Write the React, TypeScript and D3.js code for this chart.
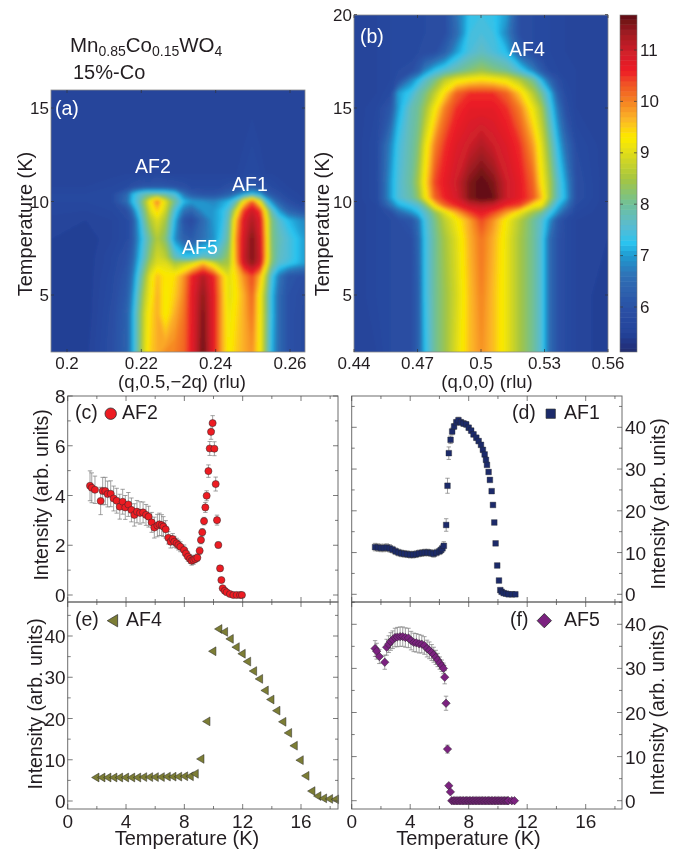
import React from 'react';
import * as d3 from 'd3';

// ---------- heat map (a) ----------
const qA = [0.196,0.205,0.212,0.216,0.2175,0.219,0.221,0.2225,0.2243,0.2265,0.229,0.2315,0.2335,0.2366,0.2395,0.2415,0.2435,0.2455,0.2475,0.2498,0.252,0.2535,0.255,0.257,0.2595,0.264];
const tA = [2,4,5,6,6.7,7,8,9,9.5,10,10.4,10.8,11.5,13,16];
const zA = [
  [5.5,5.45,5.9,6.3,7.0,7.9,9.0,9.5,9.7,9.9,10,10.2,10.7,11.6,10.7,9.8,9.2,9.5,9.7,9.9,9.2,8.2,7.2,6.5,6,5.75],
  [5.5,5.4,5.85,6.3,7.0,7.9,8.9,9.4,9.7,9.2,9.7,10.1,10.7,11.5,10.7,9.8,9.1,9.4,9.7,10.1,9.2,8.3,7.3,6.5,6,5.75],
  [5.5,5.4,5.8,6.2,6.8,7.7,8.7,9.2,9.7,9.2,9.5,10.0,10.7,11.4,10.7,9.8,9.0,9.3,9.7,10.2,9.2,8.3,7.3,6.5,6,5.8],
  [5.5,5.4,5.75,6.1,6.6,7.4,8.4,9.1,9.6,9.3,9.4,9.9,10.6,11.2,10.6,9.7,9.0,9.4,9.9,10.4,9.6,8.6,7.5,6.7,6.1,5.9],
  [5.5,5.4,5.7,6,6.4,7.1,8.0,8.6,9.0,9.0,8.5,8.7,8.9,9.6,8.9,8.4,8.5,9.7,10.9,11.4,10.9,9.4,8.2,7.6,7.4,7.0],
  [5.5,5.4,5.7,5.95,6.3,7,7.8,8.4,8.9,8.7,7.8,7.4,7.4,7.8,7.7,8.0,8.4,9.8,11,11.5,11,9.6,8.3,7.7,7.5,7.0],
  [5.5,5.4,5.6,5.8,6.1,6.8,7.6,8.1,8.6,8.2,6.9,6.3,6.2,6.6,6.9,7.4,8,9.9,10.9,11.5,10.9,9.6,8.2,7.8,7.5,7.0],
  [5.55,5.5,5.6,5.8,6.1,6.9,8,8.6,9,8.5,7.2,6,5.8,6.5,7,7.2,7.8,9.6,10.8,11.2,10.8,9.4,8.2,7.6,7.2,6.8],
  [5.65,5.6,5.7,5.9,6.5,7.3,8.2,9,9.5,8.8,7.5,6.6,6.4,6.9,7,7.2,7.6,8.9,10.4,11,10.4,9,7.8,7,6.4,6],
  [5.7,5.7,5.8,6.5,7.2,7.6,8.5,9.3,10,9,8,7.2,7,6.9,6.8,7,7.2,7.8,9.2,10.2,9,7.6,6.9,6.3,5.9,5.6],
  [5.7,5.7,5.8,6.4,7.1,7.5,7.8,7.9,7.9,7.8,7.5,6.6,6.2,6,6,6.1,6.3,6.6,7,7.3,7,6.4,6.1,5.9,5.7,5.55],
  [5.6,5.6,5.7,5.8,5.9,6,6.1,6.1,6.1,6.1,6,5.9,5.8,5.8,5.8,5.8,5.9,5.9,6,6.2,6,5.9,5.8,5.7,5.6,5.5],
  [5.5,5.5,5.55,5.6,5.6,5.6,5.6,5.6,5.7,5.6,5.6,5.6,5.6,5.6,5.6,5.6,5.6,5.6,5.7,5.8,5.7,5.6,5.6,5.55,5.5,5.5],
  [5.5,5.5,5.5,5.5,5.5,5.5,5.5,5.5,5.5,5.5,5.5,5.5,5.5,5.5,5.5,5.5,5.5,5.5,5.6,5.7,5.6,5.5,5.5,5.5,5.5,5.5],
  [5.5,5.5,5.5,5.5,5.5,5.5,5.5,5.5,5.5,5.5,5.5,5.5,5.5,5.5,5.5,5.5,5.5,5.5,5.5,5.5,5.5,5.5,5.5,5.5,5.5,5.5],
];

// ---------- heat map (b) ----------
const qB = [0.44,0.4506,0.4572,0.4608,0.4671,0.4703,0.4734,0.4782,0.4829,0.4884,0.4947,0.5002,0.5058,0.5121,0.5184,0.5247,0.5286,0.5326,0.5365,0.5401,0.5452,0.56];
const tB = [2,5,8,9,9.4,9.8,10.2,11,13,15,15.8,16.5,17,18,19,20];
const zB = [
  [5.5,5.6,5.8,5.8,5.9,6.3,7.2,8.0,8.4,9.0,9.6,9.9,9.6,9.1,8.5,8.0,7.5,6.5,6.0,5.8,5.6,5.4],
  [5.5,5.7,5.8,5.8,5.9,6.3,7.3,8.0,8.4,8.9,9.6,10,9.6,9.1,8.5,8.0,7.5,6.5,6.0,5.8,5.6,5.4],
  [5.5,5.7,5.8,5.8,5.9,6.4,7.3,8.0,8.5,9.0,9.7,10.1,9.7,9.1,8.5,8.0,7.5,6.5,6,5.8,5.6,5.5],
  [5.5,5.7,5.8,5.9,6.1,6.6,7.4,8.1,8.7,9.2,9.8,10.4,9.9,9.2,8.6,8,7.6,6.9,6.1,5.8,5.6,5.5],
  [5.5,5.7,5.9,6.4,6.9,7.2,7.6,8.3,9,9.7,10.4,10.7,10.4,9.8,9.1,8.4,8,7.4,6.8,6.2,5.7,5.5],
  [5.5,5.7,6.6,7.1,7.4,7.6,8.1,9.4,10.2,10.6,11,11.1,11,10.6,10.4,9.3,9.1,8,7.2,6.7,5.8,5.5],
  [5.5,5.8,7,7.5,7.9,8.3,9.1,10.2,10.6,10.9,11.5,11.7,11.6,11,10.7,10.3,9.6,8.5,7.6,7.1,5.9,5.5],
  [5.5,5.8,7,7.5,8,8.5,9.3,10.4,10.7,11,11.5,11.7,11.5,11,10.7,10.2,9.3,8.5,7.6,7,5.9,5.5],
  [5.5,5.8,6.8,7.4,7.9,8.2,9,10,10.5,10.8,11,11.2,11,10.8,10.5,9.8,9,8.1,7.2,6.5,5.8,5.5],
  [5.5,5.7,6.1,7,7.8,8,8.4,9.2,10,10.5,10.7,10.7,10.7,10.5,10,9.1,8.5,7.5,6.6,5.9,5.6,5.5],
  [5.5,5.6,5.8,7,7.4,7.8,8.1,8.7,9.4,10.2,10.5,10.5,10.5,10.2,9.5,8.6,8,7.2,6.2,5.8,5.6,5.5],
  [5.5,5.6,5.7,5.9,6.8,7.2,7.6,8.1,8.7,9.1,9.3,9.4,9.3,9.1,8.6,8,7.2,6.4,5.9,5.7,5.6,5.5],
  [5.5,5.6,5.7,5.8,5.9,6.2,6.8,7.3,7.6,7.9,8.2,8.4,8.2,8,7.5,6.8,6.2,5.8,5.7,5.6,5.6,5.5],
  [5.5,5.6,5.7,5.7,5.7,5.8,5.8,5.9,6.3,7,7.5,7.7,7.5,7.2,6.3,5.8,5.7,5.7,5.6,5.6,5.5,5.5],
  [5.5,5.6,5.7,5.7,5.7,5.7,5.8,5.8,5.9,6.5,7.4,7.5,7.4,6.8,5.9,5.8,5.7,5.7,5.6,5.6,5.5,5.5],
  [5.5,5.6,5.7,5.7,5.7,5.7,5.8,5.8,5.9,6.6,7.3,7.4,7.3,7,5.9,5.8,5.7,5.7,5.6,5.6,5.5,5.5],
];

// ---------- colour bar ----------
const colourValues = [5.1,5.5,6,6.6,7,7.25,7.6,8,8.5,9,9.3,9.7,10,10.4,10.6,10.95,11.3,11.7];
const colourStops = ['#1f2a6e','#24429a','#2b52a6','#2f6fb5','#1f9ad0','#29c3ef','#5bbbcf','#6fc09a','#a5c640','#e0dc1a','#fdec00','#fbb02a','#f58220','#ef4a26','#ee1c25','#d2202a','#a51e22','#5c0f12'];
const colourTicks = [6,7,8,9,10,11];
const colourLevels = d3.range(51, 117).map(v => v / 10);

// ---------- (c) AF2 ----------
const af2T = [1.53,1.65,1.87,2.26,2.4,2.58,2.74,2.95,3.15,3.36,3.57,3.77,3.95,4.16,4.37,4.57,4.75,4.96,5.17,5.37,5.55,5.76,5.94,6.15,6.29,6.45,6.56,6.72,6.9,7.06,7.2,7.31,7.47,7.59,7.73,7.98,8.11,8.25,8.39,8.5,8.62,8.75,8.89,9.05,9.14,9.23,9.35,9.44,9.53,9.65,9.74,9.83,9.94,10.06,10.15,10.24,10.33,10.45,10.54,10.63,10.77,10.9,11.13,11.36,11.59,11.82,11.95];
const af2I = [4.39,4.31,4.23,3.78,4.18,4.18,4.06,4.07,3.88,3.79,3.55,3.75,3.52,3.64,3.42,3.22,3.35,3.3,3.32,3.22,3.15,2.92,2.71,2.79,2.84,2.81,2.75,2.64,2.3,2.14,2.25,2.14,2.08,2.01,1.94,1.81,1.67,1.54,1.45,1.38,1.41,1.45,1.5,1.78,2.21,2.52,2.97,3.52,3.99,4.98,5.89,6.56,6.91,5.88,4.46,3.01,2.01,1.07,0.6,0.27,0.17,0.11,0.04,0,0,0,0];
const af2E = [0.6,0.6,0.55,0.55,0.55,0.55,0.52,0.52,0.5,0.5,0.5,0.5,0.48,0.48,0.48,0.45,0.45,0.45,0.42,0.42,0.42,0.4,0.42,0.45,0.45,0.42,0.4,0.35,0.25,0.25,0.22,0.22,0.2,0.2,0.2,0.2,0.18,0.18,0.18,0.18,0.18,0.15,0.15,0.15,0.15,0.15,0.15,0.2,0.2,0.25,0.28,0.3,0.3,0.28,0.28,0.2,0.12,0.1,0.05,0.05,0.02,0.02,0.02,0.01,0.01,0.01,0.01];

// ---------- (d) AF1 ----------
const af1T = [1.6,1.8,2,2.2,2.4,2.6,2.8,3,3.2,3.4,3.6,3.8,4,4.2,4.4,4.6,4.8,5,5.2,5.4,5.6,5.8,6,6.1,6.2,6.3,6.46,6.55,6.64,6.76,6.87,7,7.15,7.3,7.47,7.65,7.83,8,8.17,8.33,8.52,8.68,8.84,8.97,9.09,9.18,9.25,9.36,9.45,9.57,9.66,9.75,9.84,9.95,10.07,10.16,10.25,10.39,10.55,10.73,10.96,11.19];
const af1I = [11.3,11.2,11.1,11.1,11.2,11,10.7,10.3,10,9.8,9.7,9.6,9.5,9.5,9.6,9.8,9.9,10,10,9.9,9.7,10,10.3,10.6,11,11.6,16.6,26,33.8,37,39,40.2,41.2,41.7,41.2,40.9,40.7,39.9,39.2,38.3,37.5,36.7,35.8,34.6,33.5,32.2,31,29.3,27.4,24.7,21.4,17.2,12.2,6.9,3.3,1,0.6,0.3,0.15,0,0,0];
const af1E = [0.9,0.9,0.9,0.9,0.9,0.9,0.8,0.8,0.8,0.8,0.8,0.8,0.8,0.8,0.8,0.8,0.8,0.8,0.8,0.8,0.8,0.8,0.8,0.8,0.9,1,1.5,1.8,1.5,0.9,0.8,0.7,0.7,0.7,0.7,0.7,0.7,0.6,0.6,0.6,0.6,0.6,0.5,0.5,0.5,0.5,0.4,0.4,0.4,0.3,0.3,0.3,0.2,0.2,0.1,0.1,0.1,0.1,0.05,0,0,0];

// ---------- (e) AF4 ----------
const af4T = [1.92,2.33,2.74,3.15,3.54,3.95,4.37,4.78,5.19,5.6,5.99,6.4,6.81,7.2,7.59,8,8.39,8.73,9.12,9.53,9.94,10.35,10.74,11.13,11.54,11.95,12.32,12.73,13.14,13.53,13.92,14.33,14.74,15.13,15.52,15.93,16.32,16.73,17.14,17.53,17.94,18.35];
const af4I = [5.7,5.7,5.7,5.7,5.7,5.7,5.7,5.7,5.8,5.8,5.8,5.8,5.9,5.9,5.9,6,6,6.6,10.2,19.3,36.3,41.7,41,39.3,37.3,35.7,33.8,31.5,29.6,26.8,24.6,21.9,19.2,16.5,13.4,9.9,6.1,2.4,1.2,0.65,0.5,0.4];

// ---------- (f) AF5 ----------
const af5T = [1.6,1.71,1.89,2.26,2.39,2.53,2.67,2.8,2.96,3.12,3.31,3.49,3.67,3.88,4.06,4.24,4.42,4.61,4.79,4.97,5.15,5.31,5.47,5.61,5.75,5.88,6.02,6.16,6.27,6.36,6.45,6.55,6.64,6.75,6.84,6.95,7.05,7.15,7.25,7.35,7.45,7.55,7.65,7.75,7.85,7.95,8.05,8.15,8.25,8.35,8.45,8.55,8.65,8.75,8.85,8.95,9.05,9.15,9.25,9.35,9.45,9.55,9.65,9.75,9.85,9.95,10.05,10.15,10.25,10.35,10.45,10.55,10.65,10.72,10.95,11.13];
const af5I = [34.5,33.9,32.7,31.4,34.8,35.5,36.1,36.5,37,37.1,37.2,37.2,37,36.9,36.3,35.9,35.8,35.6,35.5,35.2,34.5,34.1,33.6,33.1,32.5,31.9,31.2,30.6,30,28,22.1,11.7,3.4,2,0,0,0,0,0,0,0,0,0,0,0,0,0,0,0,0,0,0,0,0,0,0,0,0,0,0,0,0,0,0,0,0,0,0,0,0,0,0,0,0,0,0];
const af5E = [1.8,1.8,1.6,1.6,1.8,1.9,2,2,2.1,2.2,2.2,2.2,2.2,2.2,2.1,2.1,2.1,2.1,2,2,1.9,1.9,1.8,1.7,1.6,1.5,1.4,1.3,1.2,1.5,1.6,0.9,0.5,0.3,0,0,0,0,0,0,0,0,0,0,0,0,0,0,0,0,0,0,0,0,0,0,0,0,0,0,0,0,0,0,0,0,0,0,0,0,0,0,0,0,0,0];

const tempTicks = [0,2,4,6,8,10,12,14,16,18];
const tempLabels = [0,4,8,12,16];

const FONT = '"Liberation Sans", Arial, sans-serif';
const INK = '#231f20';
const FRAME = '#6d6d6d';
const RED = '#ed1c24';
const NAVY = '#1b2a6b';
const OLIVE = '#7c7d35';
const PURPLE = '#7b2180';

const colour = d3.scaleLinear<string>().domain(colourValues).range(colourStops).clamp(true);

function Heat({ id, qs, ts, zs, x, y }: any) {
  // one repeated row and column round the data keeps the blur from fading at the frame
  const [x0, x1] = x.range();
  const [y0, y1] = y.range();
  const xp = [x0 - 12, ...qs.map((q: number) => x(q)), x1 + 12];
  const yp = [y0 + 12, ...ts.map((t: number) => y(t)), y1 - 12];
  const rows = [zs[0], ...zs, zs[zs.length - 1]].map((r: number[]) => [r[0], ...r, r[r.length - 1]]);
  const n = xp.length, m = yp.length;
  const xi = d3.scaleLinear().domain(d3.range(n)).range(xp);
  const yi = d3.scaleLinear().domain(d3.range(m)).range(yp);
  const path = d3.geoPath(d3.geoTransform({
    point(a: number, b: number) { (this as any).stream.point(xi(a - 0.5), yi(b - 0.5)); },
  }));
  const flat = rows.flat();
  const bands = d3.contours().size([n, m]).thresholds(colourLevels)(flat);
  return (
    <g clipPath={`url(#${id})`}>
      <rect x={x0} y={y1} width={x1 - x0} height={y0 - y1} fill={colour(5.1)} />
      <g filter="url(#soft)">
        {bands.map((b: any) => <path key={b.value} d={path(b) || ''} fill={colour(b.value + 0.05)} stroke={colour(b.value + 0.05)} strokeWidth={0.3} />)}
      </g>
    </g>
  );
}

function HeatAxes({ x, y, xt, xl, yt, fs = 17 }: any) {
  const [x0, x1] = x.range();
  const [y0, y1] = y.range();
  return (
    <g fontFamily={FONT} fill={INK} fontSize={fs}>
      <rect x={x0} y={y1} width={x1 - x0} height={y0 - y1} fill="none" stroke="#8a8a8a" strokeWidth={0.8} />
      {xt.map((t: number, i: number) => (
        <g key={t}>
          <line x1={x(t)} x2={x(t)} y1={y0} y2={y0 - 3} stroke="#333" strokeWidth={0.7} />
          <line x1={x(t)} x2={x(t)} y1={y1} y2={y1 + 3} stroke="#333" strokeWidth={0.7} />
          <text x={x(t)} y={y0 + 17} textAnchor="middle">{xl[i]}</text>
        </g>
      ))}
      {yt.map((t: number) => (
        <g key={t}>
          <line x1={x0} x2={x0 + 3} y1={y(t)} y2={y(t)} stroke="#333" strokeWidth={0.7} />
          <line x1={x1} x2={x1 - 3} y1={y(t)} y2={y(t)} stroke="#333" strokeWidth={0.7} />
          <text x={x0 - 2} y={y(t) + 6} textAnchor="end">{t}</text>
        </g>
      ))}
    </g>
  );
}

function Marker({ shape, fill, px, py, k = 1 }: any) {
  const t = `translate(${px},${py}) scale(${k})`;
  const stroke = '#2b2b2b';
  if (shape === 'circle') return <path transform={t} d={d3.symbol(d3.symbolCircle, 40)() as string} fill={fill} stroke={stroke} strokeWidth={0.5} />;
  if (shape === 'square') return <path transform={t} d={d3.symbol(d3.symbolSquare, 32)() as string} fill={fill} stroke={stroke} strokeWidth={0.4} />;
  if (shape === 'diamond') return <path transform={t} d="M0,-4.2L4.2,0L0,4.2L-4.2,0Z" fill={fill} stroke={stroke} strokeWidth={0.5} />;
  return <path transform={t} d="M-4.1,0L3.3,-4.4L3.3,4.4Z" fill={fill} stroke={stroke} strokeWidth={0.5} />;
}

function Scatter({ x, y, ts, vs, es, shape, fill, yt, ytl, side, showX }: any) {
  const [x0, x1] = x.range();
  const [y0, y1] = y.range();
  return (
    <g>
      {es && ts.map((t: number, i: number) => es[i] > 0 && (
        <g key={i} stroke="#7a7a7a" strokeWidth={0.7}>
          <line x1={x(t)} x2={x(t)} y1={y(vs[i] - es[i])} y2={y(vs[i] + es[i])} />
          <line x1={x(t) - 2.2} x2={x(t) + 2.2} y1={y(vs[i] - es[i])} y2={y(vs[i] - es[i])} />
          <line x1={x(t) - 2.2} x2={x(t) + 2.2} y1={y(vs[i] + es[i])} y2={y(vs[i] + es[i])} />
        </g>
      ))}
      {ts.map((t: number, i: number) => <Marker key={i} shape={shape} fill={fill} px={x(t)} py={y(vs[i])} />)}
      <rect x={x0} y={y1} width={x1 - x0} height={y0 - y1} fill="none" stroke={FRAME} strokeWidth={1} />
      {tempTicks.map(t => {
        const len = tempLabels.includes(t) ? 5 : 3;
        return (
          <g key={t} stroke="#444" strokeWidth={0.7}>
            <line x1={x(t)} x2={x(t)} y1={y0} y2={y0 - len} />
            <line x1={x(t)} x2={x(t)} y1={y1} y2={y1 + len} />
          </g>
        );
      })}
      {yt.map((t: number) => {
        const len = ytl.includes(t) ? 5 : 3;
        return (
          <g key={t} stroke="#444" strokeWidth={0.7}>
            <line x1={x0} x2={x0 + len} y1={y(t)} y2={y(t)} />
            <line x1={x1} x2={x1 - len} y1={y(t)} y2={y(t)} />
          </g>
        );
      })}
      <g fontFamily={FONT} fill={INK} fontSize={19}>
        {ytl.map((t: number) => (
          <text key={t} x={side === 'left' ? x0 - 2 : x1 + 3} y={y(t) + 7} textAnchor={side === 'left' ? 'end' : 'start'}>{t}</text>
        ))}
        {showX && tempLabels.map(t => <text key={t} x={x(t)} y={y0 + 18.5} textAnchor="middle">{t}</text>)}
      </g>
    </g>
  );
}

export default function App() {
  const xA = d3.scaleLinear().domain([0.2, 0.26]).range([67, 290]);
  const yH = d3.scaleLinear().domain([5, 15]).range([295, 108]);
  const xB = d3.scaleLinear().domain([0.44, 0.56]).range([354, 608]);
  const xAf = d3.scaleLinear().domain([xA.invert(51), xA.invert(305)]).range([51, 305]);
  const yA = d3.scaleLinear().domain([yH.invert(352), yH.invert(90)]).range([352, 90]);
  const yB = d3.scaleLinear().domain([yH.invert(352), yH.invert(15)]).range([352, 15]);
  const yBar = d3.scaleLinear().domain([6, 11]).range([307, 50]);

  const xL = d3.scaleLinear().domain([0, 16]).range([67.7, 301]);
  const xLf = d3.scaleLinear().domain([0, xL.invert(338)]).range([67.7, 338]);
  const xR = d3.scaleLinear().domain([0, 16]).range([351.7, 585.7]);
  const xRf = d3.scaleLinear().domain([0, xR.invert(622)]).range([351.7, 622]);
  const mk = (a: number, av: number, b: number, bv: number, lo: number, hi: number) => {
    const s = d3.scaleLinear().domain([bv, av]).range([b, a]);
    return d3.scaleLinear().domain([s.invert(lo), s.invert(hi)]).range([lo, hi]);
  };
  const yC = mk(396, 8, 595, 0, 602, 396);
  const yD = mk(427.3, 40, 594.3, 0, 602, 396);
  const yE = mk(636, 40, 801, 0, 809, 602);
  const yF = mk(624.3, 40, 800.7, 0, 809, 602);

  const wide = [0, 5, 10, 15, 20, 25, 30, 35, 40, 45];
  const major = [0, 10, 20, 30, 40];

  return (
    <svg width={682} height={849} style={{ position: 'absolute', left: 0, top: 0, background: '#fff' }}>
      <defs>
        <filter id="soft" x="-5%" y="-5%" width="110%" height="110%"><feGaussianBlur stdDeviation="1.4" /></filter>
        <filter id="ink" x="-2%" y="-2%" width="104%" height="104%"><feGaussianBlur stdDeviation="0.35" /></filter>
        <clipPath id="clipA"><rect x={51} y={90} width={254} height={262} /></clipPath>
        <clipPath id="clipB"><rect x={354} y={15} width={254} height={337} /></clipPath>
        <clipPath id="clipBar"><rect x={620} y={15} width={17} height={337} /></clipPath>
      </defs>
      <g filter="url(#ink)">
        <Heat id="clipA" qs={qA} ts={tA} zs={zA} x={xAf} y={yA} />
        <Heat id="clipB" qs={qB} ts={tB} zs={zB} x={xB} y={yB} />
        <HeatAxes x={xAf} y={yA} xt={[0.2, 0.22, 0.24, 0.26]} xl={['0.2', '0.22', '0.24', '0.26']} yt={[5, 10, 15]} />
        <HeatAxes x={xB} y={yB} xt={[0.44, 0.47, 0.5, 0.53, 0.56]} xl={['0.44', '0.47', '0.5', '0.53', '0.56']} yt={[5, 10, 15, 20]} />

        <g clipPath="url(#clipBar)">
          {colourLevels.map(v => (
            <rect key={v} x={620} y={yBar(v + 0.1)} width={17} height={yBar(v) - yBar(v + 0.1) + 0.5} fill={colour(v + 0.05)} />
          ))}
        </g>
        {colourTicks.map(t => (
          <g key={t}>
            <line x1={620} x2={623} y1={yBar(t)} y2={yBar(t)} stroke="#333" strokeWidth={0.7} />
            <line x1={637} x2={634} y1={yBar(t)} y2={yBar(t)} stroke="#333" strokeWidth={0.7} />
            <text x={640} y={yBar(t) + 5.5} fontFamily={FONT} fontSize={17} fill={INK}>{t}</text>
          </g>
        ))}
        <rect x={620} y={15} width={17} height={337} fill="none" stroke="#777" strokeWidth={0.6} />

        <Scatter x={xLf} y={yC} ts={af2T} vs={af2I} es={af2E} shape="circle" fill={RED} yt={[0,1,2,3,4,5,6,7,8]} ytl={[0,2,4,6,8]} side="left" />
        <Scatter x={xRf} y={yD} ts={af1T} vs={af1I} es={af1E} shape="square" fill={NAVY} yt={wide} ytl={major} side="right" />
        <Scatter x={xLf} y={yE} ts={af4T} vs={af4I} shape="triangle" fill={OLIVE} yt={wide} ytl={major} side="left" showX />
        <Scatter x={xRf} y={yF} ts={af5T} vs={af5I} es={af5E} shape="diamond" fill={PURPLE} yt={wide} ytl={major} side="right" showX />

        <g fontFamily={FONT} fill="#fff" fontSize={19.5}>
          <text x={55} y={115}>(a)</text>
          <text x={360} y={43}>(b)</text>
          <text x={135} y={173}>AF2</text>
          <text x={232} y={191}>AF1</text>
          <text x={182} y={254}>AF5</text>
          <text x={509} y={56}>AF4</text>
        </g>

        <g fontFamily={FONT} fill={INK}>
          <text x={70} y={52} fontSize={20.5}>Mn<tspan fontSize={14} dy={4}>0.85</tspan><tspan dy={-4}>Co</tspan><tspan fontSize={14} dy={4}>0.15</tspan><tspan dy={-4}>WO</tspan><tspan fontSize={14} dy={4}>4</tspan></text>
          <text x={73} y={79} fontSize={20}>15%-Co</text>
          <text transform="translate(32,224) rotate(-90)" textAnchor="middle" fontSize={20}>Temperature (K)</text>
          <text transform="translate(329,224) rotate(-90)" textAnchor="middle" fontSize={20}>Temperature (K)</text>
          <text x={182} y={388} textAnchor="middle" fontSize={18.5}>(q,0.5,−2q) (rlu)</text>
          <text x={487} y={388} textAnchor="middle" fontSize={18.5}>(q,0,0) (rlu)</text>

          <text transform="translate(48,495) rotate(-90)" textAnchor="middle" fontSize={19.5}>Intensity (arb. units)</text>
          <text transform="translate(665,504) rotate(-90)" textAnchor="middle" fontSize={19.5}>Intensity (arb. units)</text>
          <text transform="translate(42,704) rotate(-90)" textAnchor="middle" fontSize={19.5}>Intensity (arb. units)</text>
          <text transform="translate(664,710) rotate(-90)" textAnchor="middle" fontSize={19.5}>Intensity (arb. units)</text>

          <text x={187} y={845} textAnchor="middle" fontSize={20}>Temperature (K)</text>
          <text x={468.5} y={845} textAnchor="middle" fontSize={20}>Temperature (K)</text>

          <g fontSize={19.5}>
            <text x={75} y={419}>(c)</text>
            <text x={122} y={419}>AF2</text>
            <text x={512} y={419}>(d)</text>
            <text x={564} y={419}>AF1</text>
            <text x={75} y={626}>(e)</text>
            <text x={126} y={626}>AF4</text>
            <text x={510} y={626}>(f)</text>
            <text x={564} y={626}>AF5</text>
          </g>
        </g>
        <Marker shape="circle" fill={RED} px={110.7} py={413.7} k={1.6} />
        <Marker shape="square" fill={NAVY} px={550.7} py={413.7} k={1.65} />
        <Marker shape="triangle" fill={OLIVE} px={113} py={620.7} k={1.4} />
        <Marker shape="diamond" fill={PURPLE} px={544.3} py={620.7} k={1.7} />
      </g>
    </svg>
  );
}
